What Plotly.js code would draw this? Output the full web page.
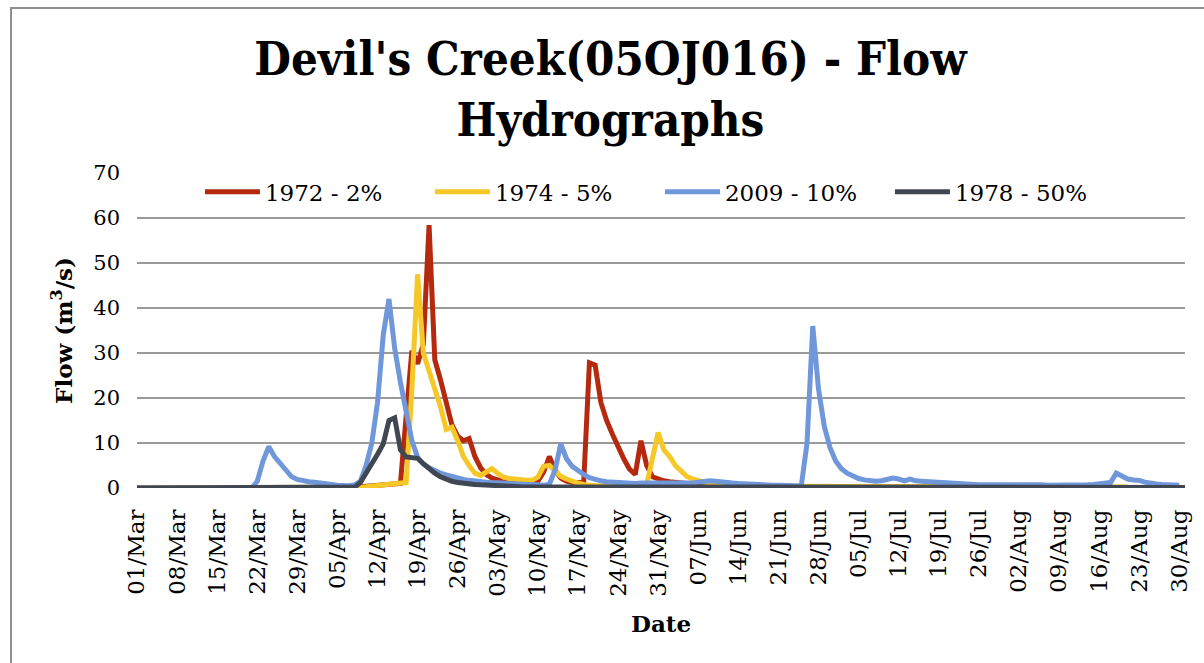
<!DOCTYPE html>
<html>
<head>
<meta charset="utf-8">
<script src="https://cdn.plot.ly/plotly-3.0.1.min.js"></script>
<style>
  html, body { margin: 0; padding: 0; background: #ffffff; overflow: hidden; }
  #frame { position: absolute; left: 10px; top: 7px; width: 1400px; height: 900px; border: 2px solid #8f8f8f; box-sizing: border-box; }
  #chart { position: absolute; left: 0; top: 0; width: 1204px; height: 663px; }
</style>
</head>
<body>
<div id="frame"></div>
<div id="chart"></div>
<script>
// Daily flows from 01/Mar (index 0) to 31/Aug (index 183), m3/s
const startDate = '2009-03-01';
const nDays = 184;

const names = ['1972 - 2%', '1974 - 5%', '2009 - 10%', '1978 - 50%'];
const colors = ['#B5290F', '#F5C827', '#6F97DA', '#404753'];

const flow1972 = [
  0,0,0,0,0,0,0,0,0,0, 0,0,0,0,0,0,0,0,0,0, 0,0,0,0,0,0,0,0,0,0, 0,0,0,0,0,0,0,0,0,
  0.3,0.4,0.5,0.6,0.7,0.8,0.9,1.0,16,30.5, 27.6,32,58.4,28.5,24,18.5,14,11.5,10.5,11,
  7,4.5,3.0,2.2,1.7,1.4,1.2,1.1,1.0,1.0, 1.0,1.5,3.5,7,4,2.2,1.5,1.2,1.1,1.2,
  27.8,27.3,19,15,12,9,6.5,4.2,3,10.5, 5,2.5,2,1.6,1.4,1.2,1.1,1.0,0.9,0.8,
  0.7,0.6,0.5,0.5,0.4,0.4,0.4,0.3,0.3,0.3, 0.3,0.2,0.2,0.2,0.2,0.2,0.2,0.2,0.2,0.2,
  0.2,0.2,0.2,0.2,0.2,0.2,0.2,0.2,0.2,0.2, 0.2,0.2,0.2,0.2,0.2,0.2,0.2,0.2,0.2,0.2,
  0.1,0.1,0.1,0.1,0.1,0.1,0.1,0.1,0.1,0.1, 0.1,0.1,0.1,0.1,0.1,0.1,0.1,0.1,0.1,0.1,
  0.1,0.1,0.1,0.1,0.1,0.1,0.1,0.1,0.1,0.1, 0.1,0.1,0.1,0.1,0.1
];

const flow1974 = [
  0,0,0,0,0,0,0,0,0,0, 0,0,0,0,0,0,0,0,0,0, 0,0,0,0,0,0,0,0,0,0, 0,0,0,0,0,0,0,0,0,
  0.2,0.3,0.4,0.5,0.6,0.7,0.8,1.0,1.2,22, 47.5,30,26,22,18,13,13.5,10.5,7,5,
  3.3,2.8,3.5,4.3,3.2,2.4,2.1,1.9,1.8,1.7, 1.7,2.4,4.8,5,3.8,2.6,2,1.5,1.1,0.8,
  0.6,0.5,0.5,0.5,0.5,0.5,0.5,0.5,0.5,0.5, 0.8,6,12.3,8.5,7,5,3.6,2.6,2,1.6,
  1.3,1.1,1.0,0.9,0.8,0.7,0.6,0.5,0.5,0.5, 0.4,0.4,0.4,0.4,0.3,0.3,0.3,0.3,0.3,0.3,
  0.3,0.3,0.3,0.3,0.3,0.3,0.3,0.3,0.3,0.3, 0.3,0.3,0.3,0.3,0.3,0.3,0.3,0.3,0.3,0.3,
  0.2,0.2,0.2,0.2,0.2,0.2,0.2,0.2,0.2,0.2, 0.2,0.2,0.2,0.2,0.2,0.2,0.2,0.2,0.2,0.2,
  0.2,0.2,0.2,0.2,0.2,0.2,0.2,0.2,0.2,0.2, 0.2,0.2,0.2,0.2,0.2
];

const flow2009 = [
  0,0,0,0,0,0,0,0,0,0, 0,0,0,0,0,0,0,0,0,0, 0,
  1.5,6,9.2,7,5.5,3.8,2.5,1.9,1.6, 1.4,1.3,1.2,1.0,0.8,0.6,0.5,0.5,0.7,1.5,
  5,10,19,34,42,31,23.5,16.5,10.5,6.8, 5.3,4.5,3.8,3.3,2.9,2.5,2.2,1.9,1.7,1.5,
  1.4,1.3,1.2,1.1,1.0,0.9,0.9,0.8,0.8,0.7, 0.7,0.6,0.8,4,9.8,6.5,4.8,3.8,3.0,2.3,
  1.9,1.6,1.4,1.3,1.2,1.1,1.1,1.0,1.1,1.1, 1.0,1.0,0.9,0.9,0.9,0.9,1.0,1.1,1.3,1.5,
  1.6,1.5,1.3,1.2,1.1,1.0,0.9,0.8,0.8,0.7, 0.7,0.6,0.6,0.5,0.5,0.5,0.5,10,36,22,
  13.8,9,6,4.3,3.3,2.6,2.1,1.8,1.6,1.5, 1.6,1.9,2.2,2.0,1.6,2.0,1.6,1.5,1.4,1.3,
  1.2,1.1,1.0,1.0,0.9,0.8,0.8,0.7,0.7,0.7, 0.8,0.8,0.9,0.9,0.9,0.8,0.8,0.7,0.7,0.6,
  0.6,0.6,0.6,0.5,0.5,0.6,0.7,0.8,0.9,1.0, 1.2,3.3,2.6,2.0,1.8,1.7,1.3,1.0,0.9,0.8,
  0.7,0.7,0.6
];

const flow1978 = [
  0,0,0,0,0,0,0,0,0,0, 0,0,0,0,0,0,0,0,0,0, 0,0,0,0,0,0,0,0,0,0, 0,0,0,0,0,0,0,0,
  0.2,1.2,3.2,5.2,7.5,9.8,15,15.6,8.5,6.9,6.8,6.6, 5.4,4.3,3.3,2.5,1.9,1.5,1.2,1.0,0.9,0.8,
  0.7,0.6,0.5,0.45,0.4,0.35,0.35,0.3,0.3,0.3, 0.3,0.3,0.3,0.25,0.25,0.25,0.25,0.2,0.2,0.2,
  0.2,0.2,0.2,0.2,0.2,0.2,0.2,0.2,0.2,0.2, 0.2,0.2,0.2,0.2,0.2,0.2,0.2,0.2,0.2,0.2,
  0.2,0.2,0.2,0.2,0.2,0.2,0.2,0.2,0.2,0.2, 0.2,0.2,0.2,0.2,0.2,0.2,0.2,0.2,0.2,0.2,
  0.1,0.1,0.1,0.1,0.1,0.1,0.1,0.1,0.1,0.1, 0.1,0.1,0.1,0.1,0.1,0.1,0.1,0.1,0.1,0.1,
  0.1,0.1,0.1,0.1,0.1,0.1,0.1,0.1,0.1,0.1, 0.1,0.1,0.1,0.1,0.1,0.1,0.1,0.1,0.1,0.1,
  0.1,0.1,0.1,0.1,0.1,0.1,0.1,0.1,0.1,0.1, 0.1,0.1,0.1,0.1,0.1,0.1,0.1,0.1,0.1,0.1,
  0.1,0.1,0.1,0.1,0.1,0.1
];

const series = [flow1972, flow1974, flow2009, flow1978];

// Build the daily date axis
const dates = [];
const d0 = new Date(startDate + 'T00:00:00Z');
for (let i = 0; i < nDays; i++) {
  const d = new Date(d0.getTime() + i * 86400000);
  dates.push(d.toISOString().slice(0, 10));
}

const traces = series.map((vals, k) => ({
  x: dates.slice(0, vals.length),
  y: vals,
  type: 'scatter',
  mode: 'lines',
  name: names[k],
  line: { color: colors[k], width: 5, shape: 'linear' }
}));

const serif = 'DejaVu Serif, serif';

const layout = {
  width: 1204,
  height: 663,
  paper_bgcolor: 'rgba(0,0,0,0)',
  plot_bgcolor: 'rgba(0,0,0,0)',
  margin: { l: 137, r: 19, t: 173, b: 175 },
  showlegend: true,
  title: {
    text: "Devil's Creek(05OJ016) - Flow<br>Hydrographs",
    font: { family: 'DejaVu Serif Condensed, DejaVu Serif, serif', size: 47, color: '#000000', weight: 700 },
    x: 0.507, xanchor: 'center', xref: 'container',
    y: 0.887, yanchor: 'middle', yref: 'container'
  },
  legend: {
    orientation: 'h',
    x: 0.499, xanchor: 'center',
    y: 0.94, yanchor: 'middle',
    font: { family: serif, size: 23, color: '#000000' },
    itemwidth: 55,
    entrywidth: 160,
    bgcolor: 'rgba(0,0,0,0)',
    traceorder: 'normal'
  },
  xaxis: {
    type: 'date',
    range: [dates[0], dates[nDays - 1]],
    tick0: dates[0],
    dtick: 7 * 86400000,
    tickformat: '%d/%b',
    tickangle: -90,
    tickfont: { family: serif, size: 23, color: '#000000' },
    ticklabelstandoff: 16,
    showgrid: false,
    zeroline: false,
    showline: false,
    ticks: '',
    title: { text: 'Date', font: { family: serif, size: 23, color: '#000000', weight: 700 }, standoff: 20 },
    fixedrange: true
  },
  yaxis: {
    range: [0, 70],
    dtick: 10,
    tick0: 0,
    tickfont: { family: serif, size: 21, color: '#000000' },
    ticklabelstandoff: 16,
    showgrid: true,
    gridcolor: '#9a9a9a',
    gridwidth: 1.5,
    zeroline: false,
    showline: false,
    ticks: '',
    title: { text: 'Flow (m<sup>3</sup>/s)', font: { family: serif, size: 23, color: '#000000', weight: 700 }, standoff: 14 },
    fixedrange: true
  }
};

Plotly.newPlot('chart', traces, layout, { displayModeBar: false, staticPlot: true });
</script>
</body>
</html>
